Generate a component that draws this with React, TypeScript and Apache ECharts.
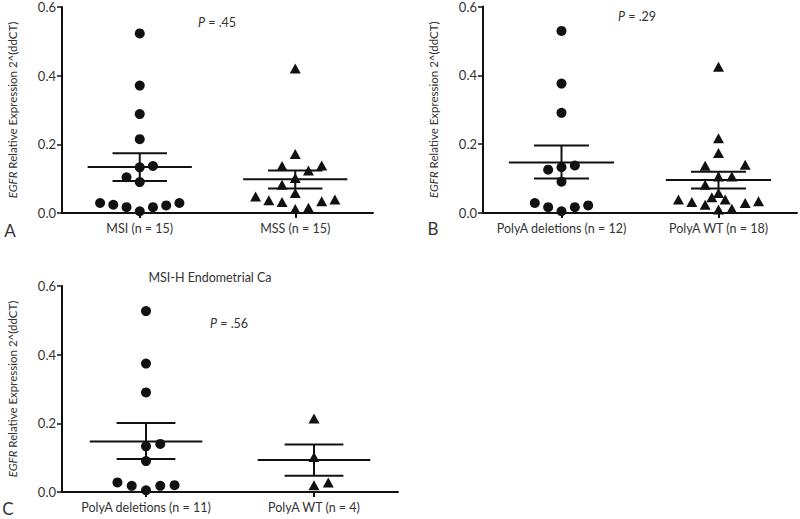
import React, { useEffect, useRef } from "react";
import * as echarts from "echarts";

// ---------- data ----------
const panelACategories = ["MSI (n = 15)", "MSS (n = 15)"];
const panelAMsiValues = [0.523, 0.371, 0.288, 0.215, 0.133, 0.137, 0.104, 0.09, 0.029, 0.024, 0.017, 0.005, 0.017, 0.022, 0.029];
const panelAMsiSlots = [0, 0, 0, 0, 0, 1, -1, 0, -3, -2, -1, 0, 1, 2, 3];
const panelAMssValues = [0.421, 0.172, 0.137, 0.138, 0.124, 0.102, 0.082, 0.058, 0.048, 0.037, 0.032, 0.034, 0.039, 0.012, 0.015];
const panelAMssSlots = [0, 0, -1, 2, 1, 0, -1, 0, -3, -2, -1, 2, 3, 0, 1];
const panelAMean = [0.134, 0.098];
const panelASemLow = [0.093, 0.071];
const panelASemHigh = [0.174, 0.124];
const panelAP = ".45";

const panelBCategories = ["PolyA deletions (n = 12)", "PolyA WT (n = 18)"];
const panelBDelValues = [0.529, 0.376, 0.291, 0.126, 0.133, 0.138, 0.091, 0.029, 0.017, 0.005, 0.017, 0.022];
const panelBDelSlots = [0, 0, 0, -1, 0, 1, 0, -2, -1, 0, 1, 2];
const panelBWtValues = [0.425, 0.217, 0.174, 0.137, 0.14, 0.106, 0.106, 0.082, 0.058, 0.046, 0.039, 0.039, 0.032, 0.024, 0.029, 0.034, 0.01, 0.012];
const panelBWtSlots = [0, 0, 0, -1, 2, 0, 1, -1, 0, -0.5, 0.5, -3, -2, -1, 2, 3, 0, 1];
const panelBMean = [0.147, 0.096];
const panelBSemLow = [0.1, 0.071];
const panelBSemHigh = [0.196, 0.12];
const panelBP = ".29";

const panelCTitle = "MSI-H Endometrial Ca";
const panelCCategories = ["PolyA deletions (n = 11)", "PolyA WT (n = 4)"];
const panelCDelValues = [0.527, 0.374, 0.29, 0.133, 0.14, 0.09, 0.028, 0.018, 0.005, 0.018, 0.02];
const panelCDelSlots = [0, 0, 0, 0, 1, 0, -2, -1, 0, 1, 2];
const panelCWtValues = [0.214, 0.102, 0.02, 0.028];
const panelCWtSlots = [0, 0, 0, 1];
const panelCMean = [0.147, 0.093];
const panelCSemLow = [0.096, 0.047];
const panelCSemHigh = [0.201, 0.138];
const panelCP = ".56";

const yTicks = [0, 0.2, 0.4, 0.6];
const yAxisName = "{i|EGFR} Relative Expression 2^(ddCT)";

// ---------- styling constants ----------
const INK = "#111";
const TEXT = "#333";
const FONT = "Lato";
const JITTER = 0.085;
const MEAN_HALF = 0.335;
const SEM_HALF = 0.175;

const pts = (cat: number, vals: number[], slots: number[]) =>
  vals.map((v, i) => [cat + slots[i] * JITTER, v]);

const grids = [
  { left: 62, top: 7, right: 427, bottom: 306 },
  { left: 483, top: 6, right: 3, bottom: 306 },
  { left: 62, top: 286, right: 402, bottom: 27 },
];

const panels = [
  { cats: panelACategories, g1: [panelAMsiValues, panelAMsiSlots], g2: [panelAMssValues, panelAMssSlots], mean: panelAMean, lo: panelASemLow, hi: panelASemHigh },
  { cats: panelBCategories, g1: [panelBDelValues, panelBDelSlots], g2: [panelBWtValues, panelBWtSlots], mean: panelBMean, lo: panelBSemLow, hi: panelBSemHigh },
  { cats: panelCCategories, g1: [panelCDelValues, panelCDelSlots], g2: [panelCWtValues, panelCWtSlots], mean: panelCMean, lo: panelCSemLow, hi: panelCSemHigh },
];

export default function App() {
  const ref = useRef<HTMLDivElement>(null);
  useEffect(() => {
    if (!ref.current) return;
    const chart = echarts.init(ref.current, null, { renderer: "svg" });

    const xAxes = panels.map((p, i) => ({
      type: "value",
      gridIndex: i,
      min: 0.5,
      max: 2.5,
      splitLine: { show: false },
      axisLine: { show: true, lineStyle: { color: INK, width: 2 } },
      axisTick: { show: true, customValues: [1, 2], length: 5, lineStyle: { color: INK, width: 2 } },
      axisLabel: {
        show: true,
        customValues: [1, 2],
        formatter: (v: number) => p.cats[Math.round(v) - 1] ?? "",
        color: TEXT,
        fontFamily: FONT,
        fontSize: 12.5,
        margin: 9,
      },
    }));

    const yAxes = panels.map((_, i) => ({
      type: "value",
      gridIndex: i,
      min: 0,
      max: 0.6,
      interval: 0.2,
      splitLine: { show: false },
      axisLine: { show: true, lineStyle: { color: INK, width: 2 } },
      axisTick: { show: true, length: 5, lineStyle: { color: INK, width: 1.5 } },
      axisLabel: {
        color: TEXT,
        fontFamily: FONT,
        fontSize: 13,
        margin: 6,
        formatter: (v: number) => (yTicks.includes(Math.round(v * 10) / 10) ? v.toFixed(1) : ""),
      },
      name: yAxisName,
      nameLocation: "middle",
      nameGap: 44,
      nameTextStyle: {
        color: TEXT,
        fontFamily: FONT,
        fontSize: 11.5,
        rich: { i: { fontStyle: "italic", fontFamily: FONT, fontSize: 11.5, color: TEXT } },
      },
    }));

    const series: any[] = [];
    panels.forEach((p, i) => {
      series.push({
        type: "custom",
        xAxisIndex: i,
        yAxisIndex: i,
        data: [0, 1].map((k) => [k + 1, p.mean[k], p.lo[k], p.hi[k]]),
        renderItem: (_params: any, api: any) => {
          const x = api.value(0);
          const m = api.value(1);
          const lo = api.value(2);
          const hi = api.value(3);
          const style = { stroke: INK, lineWidth: 2 };
          const seg = (a: number[], b: number[]) => {
            const p1 = api.coord(a);
            const p2 = api.coord(b);
            return { type: "line", shape: { x1: p1[0], y1: p1[1], x2: p2[0], y2: p2[1] }, style };
          };
          return {
            type: "group",
            children: [
              seg([x - MEAN_HALF, m], [x + MEAN_HALF, m]),
              seg([x - SEM_HALF, lo], [x + SEM_HALF, lo]),
              seg([x - SEM_HALF, hi], [x + SEM_HALF, hi]),
              seg([x, lo], [x, hi]),
            ],
          };
        },
        z: 2,
      });
      series.push({
        type: "scatter",
        xAxisIndex: i,
        yAxisIndex: i,
        symbol: "circle",
        symbolSize: 10,
        itemStyle: { color: INK, opacity: 1 },
        data: pts(1, p.g1[0] as number[], p.g1[1] as number[]),
        z: 3,
      });
      series.push({
        type: "scatter",
        xAxisIndex: i,
        yAxisIndex: i,
        symbol: "triangle",
        symbolSize: [11, 10],
        itemStyle: { color: INK, opacity: 1 },
        data: pts(2, p.g2[0] as number[], p.g2[1] as number[]),
        z: 3,
      });
    });

    const pText = (x: number, y: number, val: string) => ({
      type: "text",
      x,
      y,
      style: {
        text: "{i|P} = " + val,
        fill: TEXT,
        font: `12.5px ${FONT}`,
        rich: { i: { fontStyle: "italic", fontFamily: FONT, fontSize: 12.5, fill: TEXT } },
        verticalAlign: "middle",
      },
    });
    const letter = (x: number, y: number, t: string) => ({
      type: "text",
      x,
      y,
      style: { text: t, fill: TEXT, font: `17px ${FONT}`, textAlign: "center", verticalAlign: "middle" },
    });

    chart.setOption({
      animation: false,
      backgroundColor: "#fff",
      grid: grids,
      xAxis: xAxes,
      yAxis: yAxes,
      series,
      graphic: [
        pText(198, 22, panelAP),
        pText(618, 16, panelBP),
        pText(210, 323, panelCP),
        letter(10, 230, "A"),
        letter(433, 228, "B"),
        letter(8, 508, "C"),
        {
          type: "text",
          x: 210,
          y: 277,
          style: { text: panelCTitle, fill: TEXT, font: `12.5px ${FONT}`, textAlign: "center", verticalAlign: "middle" },
        },
      ],
    });
    return () => chart.dispose();
  }, []);
  return (
    <div
      ref={ref}
      style={{ position: "fixed", left: 0, top: 0, width: 800, height: 519, background: "#fff" }}
    />
  );
}
